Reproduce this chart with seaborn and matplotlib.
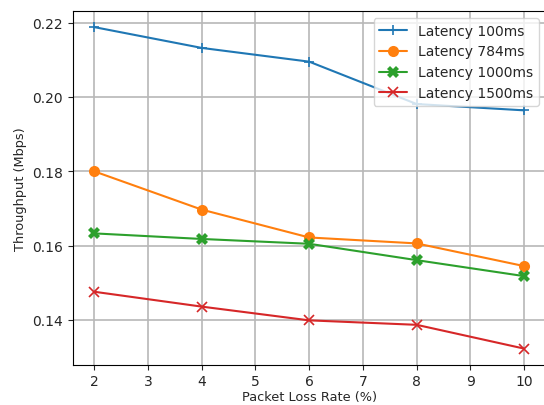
import numpy as np
import pandas as pd
import seaborn as sns
import matplotlib
matplotlib.use("Agg")
import matplotlib.pyplot as plt

loss_rate = [2, 4, 6, 8, 10]
lat_100 = [0.2188, 0.2132, 0.2095, 0.1981, 0.1964]
lat_784 = [0.1800, 0.1697, 0.1622, 0.1606, 0.1545]
lat_1000 = [0.1633, 0.1618, 0.1605, 0.1561, 0.1518]
lat_1500 = [0.1476, 0.1436, 0.1399, 0.1387, 0.1323]
labels = ["Latency 100ms", "Latency 784ms", "Latency 1000ms", "Latency 1500ms"]

sns.set_style("ticks")
plt.rcParams["font.family"] = ["DejaVu Sans"]

fig = plt.figure(figsize=(5.44, 4.06), dpi=100)
ax = fig.add_axes([0.1336, 0.0993, 0.8694, 0.8711])

palette = ["#1f77b4", "#ff7f0e", "#2ca02c", "#d62728"]
markers = ["+", "o", "X", "x"]
# one lineplot per series, filled and line markers can't be mixed in one call
for lab, vals, c, m in zip(labels, [lat_100, lat_784, lat_1000, lat_1500], palette, markers):
    line_art = m in "+x"
    sns.lineplot(x=loss_rate, y=vals, color=c, marker=m, label=lab,
                 markersize=7 if line_art else 8, linewidth=1.5, markeredgecolor=c,
                 markeredgewidth=1.2 if line_art else 0, ax=ax)

ax.set_xticks(range(2, 11))
ax.set_yticks([0.14, 0.16, 0.18, 0.20, 0.22])
ax.grid(True, color="#b8b8b8", linewidth=1.2)
ax.set_xlabel("Packet Loss Rate (%)", fontsize=9.3, labelpad=1)
ax.set_ylabel("Throughput (Mbps)", fontsize=9.3)
ax.tick_params(labelsize=10)
for s in ax.spines.values():
    s.set_color("black")
ax.legend(loc="upper right", fontsize=10)

fig.savefig("out.png", dpi=100)
